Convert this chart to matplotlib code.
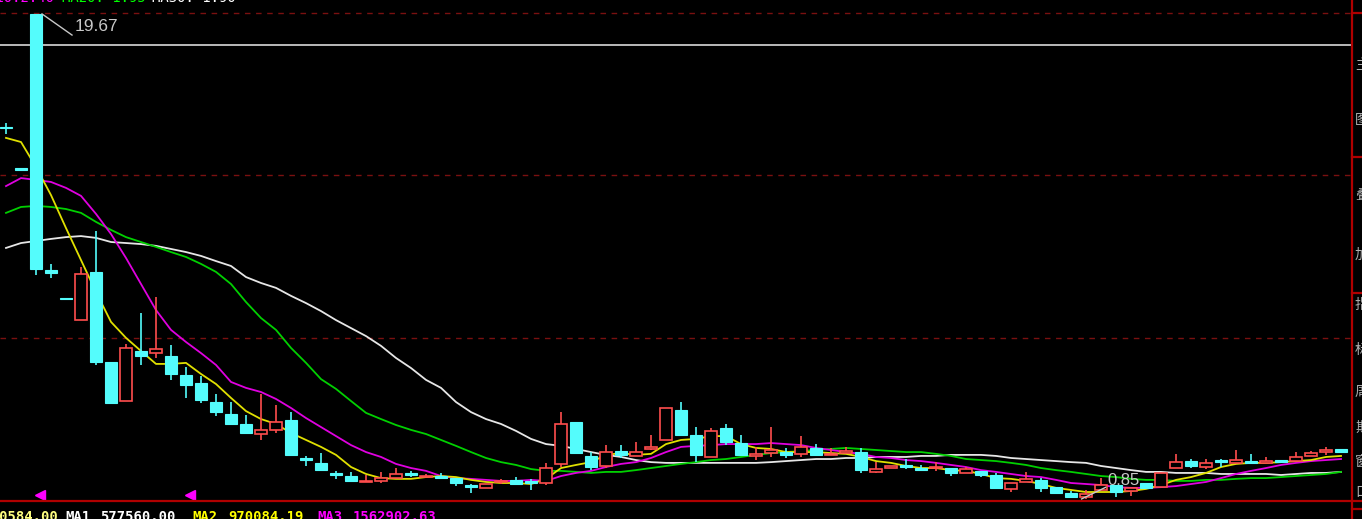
import matplotlib
matplotlib.use("Agg")
import matplotlib.pyplot as plt
from matplotlib.patches import Rectangle
from matplotlib.lines import Line2D
import numpy as np

# ---------------- data ----------------
opens = [15.27, 13.67, 19.67, 9.73, 8.62, 7.79, 9.66, 6.16, 4.65, 6.59,
         6.51, 6.40, 5.66, 5.35, 4.61, 4.15, 3.76, 3.37, 3.53, 3.91,
         2.44, 2.25, 1.86, 1.74, 1.51, 1.55, 1.66, 1.86, 1.70, 1.74,
         1.66, 1.39, 1.28, 1.51, 1.59, 1.55, 1.47, 2.21, 3.84, 2.52,
         2.13, 2.71, 2.52, 2.79, 3.14, 4.30, 3.33, 2.48, 3.60, 3.02,
         2.52, 2.63, 2.67, 2.60, 2.83, 2.56, 2.63, 2.67, 1.90, 2.07,
         2.17, 2.05, 2.05, 2.05, 1.86, 1.94, 1.78, 1.24, 1.51, 1.59,
         1.31, 1.08, 0.93, 1.20, 1.39, 1.16, 1.47, 1.31, 2.05, 2.32,
         2.09, 2.34, 2.25, 2.32, 2.26, 2.36, 2.32, 2.52, 2.69, 2.79]
highs = [15.44, 13.67, 19.67, 9.97, 8.62, 9.85, 11.25, 6.16, 6.86, 8.07,
         8.69, 6.82, 5.97, 5.62, 4.92, 4.61, 4.11, 4.92, 4.50, 4.22,
         2.52, 2.63, 1.94, 1.90, 1.78, 1.90, 2.05, 1.94, 1.82, 1.86,
         1.66, 1.43, 1.43, 1.63, 1.70, 1.63, 2.25, 4.22, 3.84, 2.67,
         2.94, 2.94, 3.06, 3.33, 4.38, 4.61, 3.64, 3.60, 3.76, 3.33,
         2.87, 3.64, 2.83, 3.29, 2.98, 2.83, 2.87, 2.83, 2.28, 2.09,
         2.40, 2.17, 2.28, 2.05, 2.09, 1.94, 1.86, 1.47, 1.90, 1.66,
         1.31, 1.16, 1.20, 1.66, 1.39, 1.28, 1.47, 1.86, 2.60, 2.40,
         2.40, 2.40, 2.75, 2.60, 2.48, 2.36, 2.67, 2.71, 2.87, 2.79]
lows = [15.01, 13.63, 9.54, 9.42, 8.60, 7.79, 6.05, 4.57, 4.65, 6.05,
        6.32, 5.47, 4.77, 4.57, 4.07, 3.76, 3.41, 3.14, 3.41, 2.56,
        2.13, 1.97, 1.63, 1.55, 1.51, 1.47, 1.66, 1.70, 1.70, 1.66,
        1.35, 1.08, 1.28, 1.43, 1.43, 1.20, 1.39, 2.09, 2.63, 1.97,
        2.05, 2.44, 2.52, 2.75, 3.14, 3.33, 2.28, 2.48, 2.94, 2.56,
        2.36, 2.48, 2.44, 2.48, 2.56, 2.56, 2.63, 1.86, 1.86, 2.07,
        2.01, 1.97, 1.94, 1.74, 1.86, 1.70, 1.28, 1.12, 1.51, 1.12,
        1.08, 0.93, 0.85, 1.20, 0.93, 0.97, 1.28, 1.31, 2.05, 2.05,
        2.01, 2.09, 2.25, 2.25, 2.26, 2.28, 2.32, 2.52, 2.56, 2.63]
closes = [15.23, 13.63, 9.77, 9.62, 8.60, 9.58, 6.16, 4.57, 6.71, 6.40,
          6.67, 5.70, 5.27, 4.69, 4.22, 3.76, 3.41, 3.53, 3.84, 2.56,
          2.36, 1.97, 1.78, 1.55, 1.55, 1.66, 1.82, 1.78, 1.74, 1.66,
          1.47, 1.31, 1.43, 1.55, 1.43, 1.47, 2.05, 3.76, 2.63, 2.09,
          2.67, 2.56, 2.67, 2.87, 4.38, 3.33, 2.56, 3.49, 3.06, 2.56,
          2.60, 2.75, 2.56, 2.87, 2.56, 2.60, 2.71, 1.97, 2.01, 2.09,
          2.09, 1.97, 2.09, 1.86, 2.01, 1.78, 1.28, 1.47, 1.63, 1.28,
          1.08, 0.93, 1.04, 1.39, 1.12, 1.28, 1.28, 1.86, 2.28, 2.13,
          2.25, 2.30, 2.36, 2.25, 2.30, 2.28, 2.48, 2.63, 2.73, 2.67]

ma1 = [14.86, 14.70, 13.73, 12.64, 11.36, 10.12, 8.88, 7.72, 7.10, 6.59,
       6.09, 6.09, 6.13, 5.70, 5.31, 4.77, 4.26, 3.95, 3.76, 3.41,
       3.14, 2.87, 2.56, 2.09, 1.82, 1.66, 1.63, 1.63, 1.70, 1.74,
       1.70, 1.59, 1.51, 1.47, 1.47, 1.43, 1.63, 2.05, 2.17, 2.28,
       2.56, 2.63, 2.56, 2.60, 2.98, 3.14, 3.18, 3.29, 3.29, 2.98,
       2.83, 2.79, 2.67, 2.67, 2.67, 2.63, 2.60, 2.48, 2.32, 2.25,
       2.13, 2.05, 2.05, 1.97, 1.94, 1.82, 1.66, 1.63, 1.55, 1.43,
       1.28, 1.20, 1.12, 1.12, 1.12, 1.16, 1.24, 1.39, 1.59, 1.70,
       1.86, 2.09, 2.21, 2.25, 2.25, 2.28, 2.32, 2.36, 2.48, 2.52]
ma2 = [12.99, 13.30, 13.23, 13.15, 12.92, 12.61, 11.91, 11.13, 10.20, 9.19,
       8.18, 7.41, 6.94, 6.51, 6.05, 5.39, 5.16, 5.00, 4.73, 4.38,
       3.99, 3.64, 3.29, 2.94, 2.67, 2.48, 2.21, 2.05, 1.94, 1.74,
       1.66, 1.63, 1.59, 1.55, 1.55, 1.59, 1.55, 1.74, 1.86, 1.94,
       2.09, 2.21, 2.28, 2.44, 2.67, 2.87, 2.91, 2.94, 2.98, 2.98,
       2.98, 3.02, 2.98, 2.94, 2.83, 2.75, 2.67, 2.60, 2.48, 2.44,
       2.36, 2.32, 2.25, 2.17, 2.09, 1.97, 1.90, 1.82, 1.74, 1.70,
       1.59, 1.47, 1.43, 1.39, 1.31, 1.28, 1.28, 1.31, 1.35, 1.43,
       1.51, 1.66, 1.82, 1.94, 2.05, 2.17, 2.25, 2.32, 2.36, 2.40]
ma3 = [11.95, 12.18, 12.22, 12.18, 12.10, 11.95, 11.60, 11.29, 11.01, 10.82,
       10.63, 10.43, 10.24, 9.97, 9.66, 9.19, 8.49, 7.87, 7.41, 6.71,
       6.13, 5.50, 5.12, 4.65, 4.19, 3.95, 3.72, 3.53, 3.37, 3.14,
       2.91, 2.67, 2.44, 2.28, 2.17, 2.01, 1.94, 1.94, 1.90, 1.86,
       1.90, 1.90, 1.97, 2.05, 2.13, 2.21, 2.28, 2.36, 2.40, 2.48,
       2.56, 2.63, 2.67, 2.71, 2.75, 2.79, 2.83, 2.79, 2.75, 2.71,
       2.67, 2.67, 2.60, 2.52, 2.40, 2.36, 2.32, 2.25, 2.17, 2.05,
       1.97, 1.90, 1.82, 1.74, 1.70, 1.63, 1.59, 1.59, 1.55, 1.55,
       1.59, 1.59, 1.63, 1.66, 1.66, 1.70, 1.74, 1.78, 1.82, 1.90]
ma4 = [10.59, 10.78, 10.86, 10.94, 11.01, 11.05, 10.98, 10.82, 10.78, 10.74,
       10.67, 10.55, 10.43, 10.28, 10.08, 9.89, 9.46, 9.23, 9.04, 8.73,
       8.45, 8.14, 7.79, 7.48, 7.17, 6.79, 6.32, 5.93, 5.47, 5.16,
       4.61, 4.22, 3.95, 3.76, 3.49, 3.18, 2.98, 2.91, 2.79, 2.67,
       2.56, 2.48, 2.36, 2.28, 2.25, 2.25, 2.25, 2.25, 2.25, 2.25,
       2.25, 2.28, 2.32, 2.36, 2.40, 2.40, 2.44, 2.44, 2.48, 2.48,
       2.48, 2.52, 2.52, 2.56, 2.56, 2.56, 2.52, 2.44, 2.40, 2.36,
       2.32, 2.28, 2.25, 2.13, 2.05, 1.97, 1.90, 1.90, 1.86, 1.86,
       1.86, 1.82, 1.82, 1.82, 1.82, 1.78, 1.82, 1.86, 1.86, 1.90]

grid_prices = [19.71, 13.42, 7.10]
hline_price = 18.48
high_label = "19.67"
low_label = "0.85"
marker_idx = [2.25, 12.25]
marker_price = 1.00

bottom_labels = [("1080584.00", "#ffff80"), ("MA1", "#ffffff"), ("577560.00", "#ffffff"),
                 ("MA2", "#ffff00"), ("970084.19", "#ffff00"),
                 ("MA3", "#ff00ff"), ("1562902.63", "#ff00ff")]
top_labels = [("A10:2.40", "#ff00ff"), ("MA20: 1.95", "#00ff00"), ("MA30: 1.90", "#ffffff")]

# ---------------- figure ----------------
W, H = 1362, 519
fig = plt.figure(figsize=(W / 100, H / 100), dpi=100, facecolor="black")
ax = fig.add_axes([0, 19 / H, 1352 / W, 500 / H])
ax.set_facecolor("black")
ax.set_xlim(-0.4, 89.73)
ax.set_ylim(0.81, 20.21)
for s in ax.spines.values():
    s.set_visible(False)
ax.set_xticks([])
ax.set_yticks([])

RED = "#ff4d4d"
CYAN = "#54fcfc"
n = len(opens)
x = np.arange(n)
w = 0.78
minh = 0.045

# grid lines
for gp in grid_prices:
    ax.axhline(gp, color="#7a1010", lw=1.0, ls=(0, (4, 4)), zorder=1)
ax.axhline(hline_price, color="#c8c8c8", lw=1.3, zorder=1)

# moving averages
ax.plot(x, ma4, color="#e6e6e6", lw=1.3, zorder=2)
ax.plot(x, ma3, color="#00d000", lw=1.3, zorder=2)
ax.plot(x, ma2, color="#e000e0", lw=1.3, zorder=2)
ax.plot(x, ma1, color="#e0e000", lw=1.3, zorder=2)

# candles
for i in range(n):
    o, h, l, c = opens[i], highs[i], lows[i], closes[i]
    top, bot = max(o, c), min(o, c)
    if c > o:
        ax.plot([i, i], [top, h], color=RED, lw=1.2, zorder=3, solid_capstyle="butt")
        ax.plot([i, i], [l, bot], color=RED, lw=1.2, zorder=3, solid_capstyle="butt")
        hgt = max(top - bot, minh)
        ax.add_patch(Rectangle((i - w / 2, bot), w, hgt, facecolor="black",
                               edgecolor=RED, lw=1.2, zorder=4))
    else:
        ax.plot([i, i], [l, h], color=CYAN, lw=1.2, zorder=3, solid_capstyle="butt")
        hgt = max(top - bot, minh)
        ax.add_patch(Rectangle((i - w / 2, bot), w, hgt, facecolor=CYAN,
                               edgecolor=CYAN, lw=0.8, zorder=4))

# high / low annotations
hi_i = int(np.argmax(highs))
lo_i = int(np.argmin(lows))
ax.plot([hi_i + 0.4, hi_i + 2.4], [highs[hi_i], 18.85], color="#c8c8c8", lw=1.0, zorder=6)
ax.text(hi_i + 2.55, 19.2, high_label, color="#c8c8c8", fontsize=12.5,
        family="Liberation Sans", va="center", ha="left", zorder=6)
ax.plot([lo_i - 0.3, lo_i + 1.3], [lows[lo_i], 1.30], color="#c8c8c8", lw=1.0, zorder=6)
ax.text(lo_i + 1.45, 1.58, low_label, color="#c8c8c8", fontsize=12,
        family="Liberation Sans", va="center", ha="left", zorder=6)

# magenta markers
ax.plot(marker_idx, [marker_price] * len(marker_idx), marker="<", ls="none",
        color="#ff00ff", markersize=7, zorder=6)

# frame lines (figure coordinates)
def fy(py):
    return 1 - py / H

def fx(px):
    return px / W

fig.add_artist(Line2D([fx(1352), fx(1352)], [0, 1], color="#b00000", lw=1.6))
fig.add_artist(Line2D([0, fx(1352)], [fy(500.5), fy(500.5)], color="#b00000", lw=1.6))
for py in [13, 157, 293, 501, 509]:
    fig.add_artist(Line2D([fx(1352), 1], [fy(py), fy(py)], color="#b00000", lw=1.6))

# right-side clipped labels
for py, t in [(65, "主"), (120, "图"), (195, "叠"), (255, "加"), (305, "指"),
              (350, "标"), (392, "周"), (428, "期"), (462, "窗"), (492, "口")]:
    fig.text(fx(1355), fy(py), t, color="#b0b0b0", fontsize=10, va="center", ha="left",
             family=["Noto Sans CJK SC", "DejaVu Sans"])

# bottom indicator labels (monospace, cut off at bottom)
xpos = [58, 65, 100, 192, 228, 317, 353]
for (t, col), px in zip(bottom_labels, xpos):
    ha = "right" if px == 58 else "left"
    fig.text(fx(px), fy(521), t, color=col, fontsize=10, family="DejaVu Sans Mono",
             fontweight="bold", ha=ha, va="baseline")

# top indicator labels (cut off at top)
fig.text(fx(55), fy(2), top_labels[0][0], color=top_labels[0][1], fontsize=10,
         family="DejaVu Sans Mono", ha="right", va="baseline")
for (t, col), px in zip(top_labels[1:], [62, 152]):
    fig.text(fx(px), fy(2), t, color=col, fontsize=10, family="DejaVu Sans Mono",
             ha="left", va="baseline")

fig.savefig("out.png", dpi=100, facecolor="black")
